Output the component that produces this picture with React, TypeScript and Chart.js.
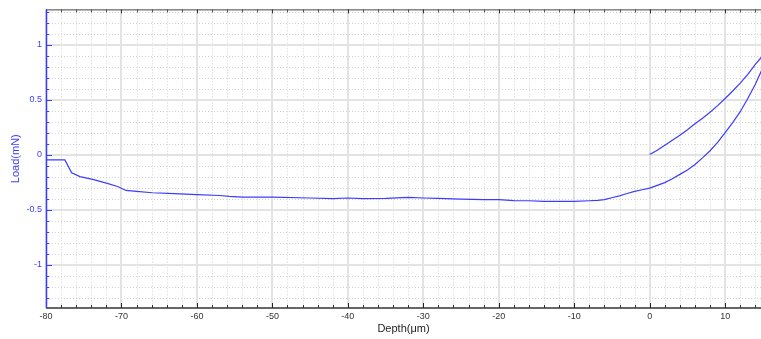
import React, { useEffect, useRef } from "react";
import { Chart, registerables } from "chart.js";

Chart.register(...registerables);

// Loading / approach curve (Depth µm, Load mN)
const loadDepth = [
  -80, -77.5, -76.6, -75.5, -73.8, -72, -70.5, -69.4, -68, -65.9, -63, -60, -57, -55.7, -54, -50,
  -45, -42, -40, -38, -35, -32, -30, -28, -25, -22, -20, -18, -16, -14, -12, -10, -8, -6.9, -6,
  -4.9, -4, -3.1, -2, -1, 0, 1, 2, 3, 4, 5, 6, 7, 8, 9, 10, 11, 12, 13, 14, 15,
];
const loadForce = [
  -0.048, -0.048, -0.166, -0.2, -0.226, -0.26, -0.29, -0.326, -0.335, -0.347, -0.355, -0.365,
  -0.372, -0.38, -0.386, -0.386, -0.395, -0.4, -0.395, -0.4, -0.398, -0.39, -0.395, -0.398,
  -0.405, -0.41, -0.41, -0.418, -0.42, -0.425, -0.425, -0.425, -0.42, -0.416, -0.41, -0.39,
  -0.375, -0.356, -0.335, -0.32, -0.305, -0.28, -0.255, -0.22, -0.18, -0.14, -0.09, -0.03, 0.035,
  0.11, 0.2, 0.29, 0.39, 0.51, 0.64, 0.79,
];

// Unloading curve
const unloadDepth = [0, 1, 2, 3, 4, 5, 6, 7, 8, 9, 10, 11, 12, 13, 14, 15];
const unloadForce = [
  0, 0.04, 0.085, 0.13, 0.175, 0.225, 0.28, 0.33, 0.385, 0.445, 0.51, 0.578, 0.65, 0.73, 0.82, 0.9,
];

const xMajorTicks = [-80, -70, -60, -50, -40, -30, -20, -10, 0, 10];
const yMajorTicks = [-1, -0.5, 0, 0.5, 1];

const X_MIN = -80;
const X_MAX = 14.75;
const Y_MIN = -1.395;
const Y_MAX = 1.32;

const xGrid: number[] = [];
for (let i = -40; i <= 7; i++) xGrid.push(i * 2);
const yGrid: number[] = [];
for (let i = -13; i <= 13; i++) yGrid.push(Math.round(i) / 10);

const isXMajor = (v: number) => xMajorTicks.some((m) => Math.abs(m - v) < 1e-6);
const isYMajor = (v: number) => yMajorTicks.some((m) => Math.abs(m - v) < 1e-6);

const BLUE = "#3c3cff";

const gridPlugin = {
  id: "customGrid",
  beforeDatasetsDraw(chart: any) {
    const { ctx, chartArea } = chart;
    const { left, right, top, bottom } = chartArea;
    const xs = chart.scales.x;
    const ys = chart.scales.y;
    ctx.save();
    const line = (x1: number, y1: number, x2: number, y2: number) => {
      ctx.beginPath();
      ctx.moveTo(x1, y1);
      ctx.lineTo(x2, y2);
      ctx.stroke();
    };
    // minor dotted
    ctx.strokeStyle = "#d2d2d2";
    ctx.lineWidth = 1;
    ctx.setLineDash([1, 2]);
    xGrid.forEach((v) => {
      if (isXMajor(v)) return;
      const px = Math.round(xs.getPixelForValue(v)) + 0.5;
      line(px, top, px, bottom);
    });
    yGrid.forEach((v) => {
      if (isYMajor(v)) return;
      const py = Math.round(ys.getPixelForValue(v)) + 0.5;
      line(left, py, right, py);
    });
    // major solid
    ctx.setLineDash([]);
    ctx.strokeStyle = "#e3e3e3";
    ctx.lineWidth = 2;
    xGrid.forEach((v) => {
      if (!isXMajor(v)) return;
      const px = Math.round(xs.getPixelForValue(v));
      line(px, top, px, bottom);
    });
    yGrid.forEach((v) => {
      if (!isYMajor(v)) return;
      const py = Math.round(ys.getPixelForValue(v));
      line(left, py, right, py);
    });
    ctx.restore();
  },
};

const framePlugin = {
  id: "frame",
  afterDraw(chart: any) {
    const { ctx, chartArea } = chart;
    const { left, right, top, bottom } = chartArea;
    const xs = chart.scales.x;
    const ys = chart.scales.y;
    ctx.save();
    const line = (x1: number, y1: number, x2: number, y2: number) => {
      ctx.beginPath();
      ctx.moveTo(x1, y1);
      ctx.lineTo(x2, y2);
      ctx.stroke();
    };
    // top frame
    ctx.strokeStyle = "#444";
    ctx.lineWidth = 1;
    line(left, top + 0.5, right, top + 0.5);
    xGrid.forEach((v) => {
      const px = Math.round(xs.getPixelForValue(v)) + 0.5;
      const major = isXMajor(v);
      ctx.strokeStyle = major ? "#333" : "#555";
      line(px, top, px, top + (major ? 4 : 3));
    });
    // bottom axis
    ctx.strokeStyle = "#666";
    ctx.lineWidth = 2;
    line(left, bottom, right, bottom);
    ctx.lineWidth = 1;
    xGrid.forEach((v) => {
      const px = Math.round(xs.getPixelForValue(v)) + 0.5;
      const major = isXMajor(v);
      ctx.strokeStyle = major ? "#222" : "#333";
      line(px, bottom, px, bottom - (major ? 5 : 3));
    });
    // left axis (blue)
    ctx.strokeStyle = BLUE;
    ctx.lineWidth = 1.5;
    line(left + 0.5, top, left + 0.5, bottom);
    ctx.lineWidth = 1;
    yGrid.forEach((v) => {
      const py = Math.round(ys.getPixelForValue(v)) + 0.5;
      const major = isYMajor(v);
      line(left, py, left + (major ? 6 : 3), py);
    });
    ctx.restore();
  },
};

export default function App() {
  const ref = useRef<HTMLCanvasElement | null>(null);

  useEffect(() => {
    if (!ref.current) return;
    Chart.defaults.font.family = "'Liberation Sans', Arial, sans-serif";
    const chart = new Chart(ref.current, {
      type: "scatter",
      data: {
        datasets: [
          {
            label: "Loading",
            data: loadDepth.map((x, i) => ({ x, y: loadForce[i] })),
            showLine: true,
            borderColor: BLUE,
            borderWidth: 1.2,
            pointRadius: 0,
            tension: 0,
          },
          {
            label: "Unloading",
            data: unloadDepth.map((x, i) => ({ x, y: unloadForce[i] })),
            showLine: true,
            borderColor: BLUE,
            borderWidth: 1.2,
            pointRadius: 0,
            tension: 0,
          },
        ],
      },
      options: {
        animation: false,
        responsive: false,
        devicePixelRatio: 1,
        layout: { padding: { top: 8, left: 0, right: 0, bottom: 0 } },
        plugins: { legend: { display: false }, tooltip: { enabled: false } },
        scales: {
          x: {
            type: "linear",
            min: X_MIN,
            max: X_MAX,
            afterBuildTicks: (scale: any) => {
              scale.ticks = xGrid.map((v) => ({ value: v }));
            },
            afterFit: (scale: any) => {
              scale.height = 31;
            },
            ticks: {
              autoSkip: false,
              maxRotation: 0,
              padding: 3,
              color: "#333",
              font: { size: 9 },
              callback: (v: any) => (isXMajor(Number(v)) ? String(v) : ""),
            },
            grid: { display: false, drawTicks: false },
            border: { display: false },
            title: {
              display: true,
              text: "Depth(μm)",
              color: "#222",
              font: { size: 11 },
              padding: { top: 0, bottom: 3 },
            },
          },
          y: {
            type: "linear",
            min: Y_MIN,
            max: Y_MAX,
            afterBuildTicks: (scale: any) => {
              scale.ticks = yGrid.map((v) => ({ value: v }));
            },
            afterFit: (scale: any) => {
              scale.width = 46;
            },
            ticks: {
              autoSkip: false,
              padding: 4,
              color: BLUE,
              font: { size: 9 },
              callback: (v: any) => (isYMajor(Number(v)) ? String(v) : ""),
            },
            grid: { display: false, drawTicks: false },
            border: { display: false },
            title: {
              display: true,
              text: "Load(mN)",
              color: BLUE,
              font: { size: 11 },
              padding: { top: 9, bottom: 0 },
            },
          },
        },
      } as any,
      plugins: [gridPlugin, framePlugin],
    });
    return () => chart.destroy();
  }, []);

  return (
    <div
      style={{
        position: "fixed",
        left: 0,
        top: 0,
        width: 761,
        height: 339,
        background: "#fff",
      }}
    >
      <canvas ref={ref} width={761} height={339} style={{ display: "block" }} />
    </div>
  );
}
